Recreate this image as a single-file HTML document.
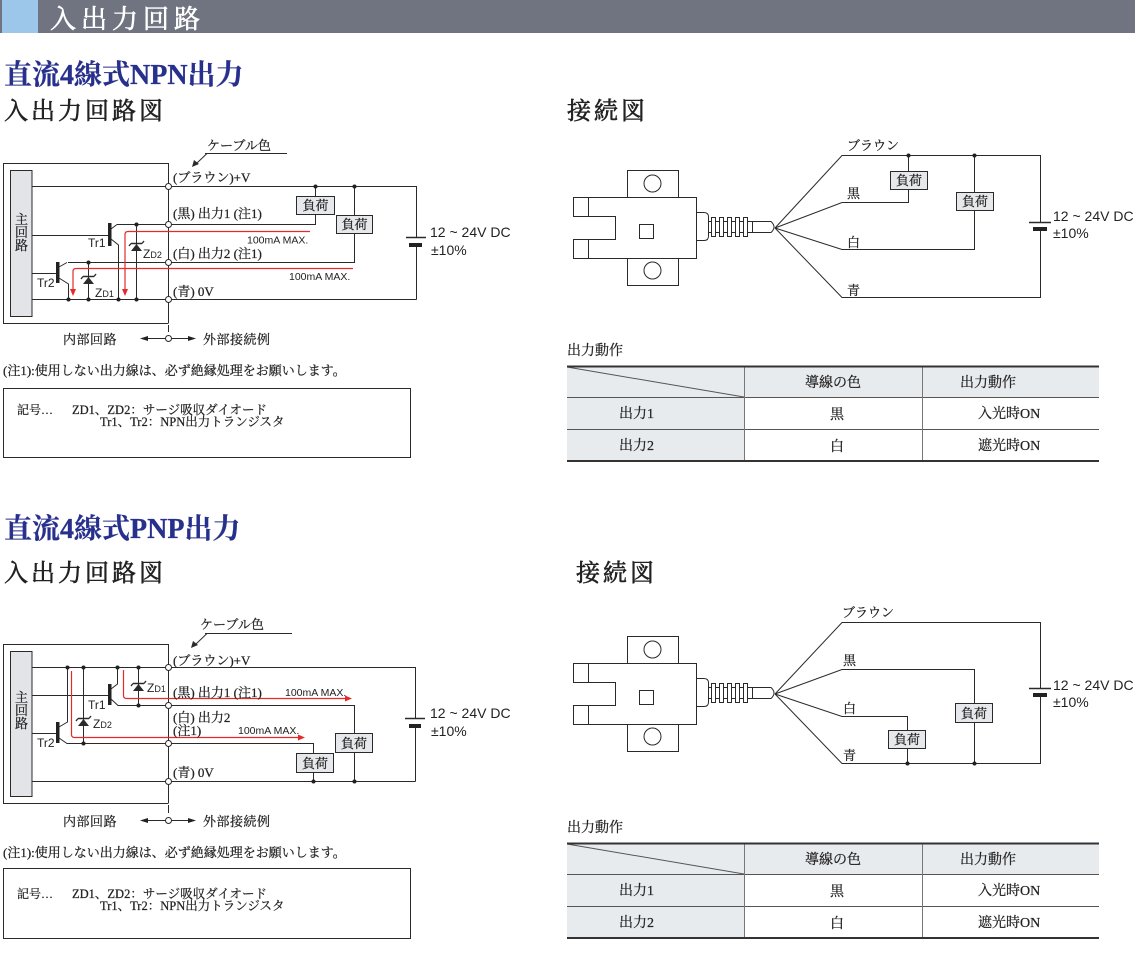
<!DOCTYPE html>
<html><head><meta charset="utf-8"><style>
html,body{margin:0;padding:0;background:#fff;}
svg{display:block;}
.s{font-family:"Liberation Serif","Noto Serif CJK SC",serif;fill:#222;stroke:#222;stroke-width:0.25px;}
.h{stroke-width:0.6px;}
.a{font-family:"Liberation Sans","Noto Sans CJK JP",sans-serif;fill:#222;}
</style></head><body>
<svg width="1135" height="969" viewBox="0 0 1135 969" xmlns="http://www.w3.org/2000/svg">
<!-- header -->
<rect x="0" y="0" width="1135" height="33" fill="#6f7480"/>
<rect x="2" y="0" width="36" height="33" fill="#9dc7ea"/>
<text x="50" y="28" class="s h" font-size="26" letter-spacing="5" style="fill:#fff;stroke:#fff">入出力回路</text>

<!-- ============ NPN ============ -->
<text x="4" y="84" class="s" font-size="28" font-weight="bold" style="fill:#27308c;stroke:#27308c">直流4線式NPN出力</text>
<text x="4" y="119" class="s h" font-size="24" letter-spacing="3">入出力回路図</text>
<text x="567" y="119" class="s h" font-size="24" letter-spacing="3">接続図</text>

<!-- NPN circuit -->
<g fill="none" stroke="#2a2a2a" stroke-width="1">
<path d="M168.5,163.5 H3.5 V323.5 H168.5"/>
<path d="M168.5,163 V323 M168.5,325 V332"/>
<path d="M32,186.5 H416.5 M117,224.5 H315.5 V214 M68,262.5 H354.5 V233 M32,299.5 H416.5"/>
<path d="M416.5,186 V237 M416.5,246 V299.5"/>
<path d="M315.5,186 V196 M354.5,186 V215"/>
<path d="M32,235.5 H109 M111,229 L117,224.5 M111,239 L118.5,245 V299"/>
<path d="M136.5,224 V299"/>
<path d="M32,273.5 H57 M59,267 L67,262.5 M59,278 L68.5,284 V299"/>
<path d="M88.5,262 V299"/>
<path d="M205,153.5 H287 M207,153.5 L197,163"/>
<path d="M406,237.5 H426" stroke-width="1.6"/>
<path d="M131,243.5 H142 M129,246 L131,243.5 M142,243.5 L144,241" stroke-width="1.4"/>
<path d="M83,276.5 H94 M81,279 L83,276.5 M94,276.5 L96,274" stroke-width="1.4"/>
</g>
<polygon points="192,167 194,160 199,164" fill="#2a2a2a"/>
<polygon points="131,251 142,251 136.5,244" fill="#2a2a2a"/>
<polygon points="83,284 94,284 88.5,277" fill="#2a2a2a"/>
<rect x="108" y="223" width="3.5" height="23" fill="#222"/>
<rect x="56" y="262" width="3.5" height="21" fill="#222"/>
<rect x="409" y="243" width="13" height="4" fill="#222"/>
<rect x="10.5" y="170.5" width="21.5" height="146" fill="#e2e4e8" stroke="#2a2a2a"/>
<g fill="#222">
<circle cx="315.5" cy="186.5" r="2"/><circle cx="354.5" cy="186.5" r="2"/>
<circle cx="136.5" cy="224.5" r="2"/><circle cx="88.5" cy="262.5" r="2"/>
<circle cx="68.5" cy="299.5" r="2"/><circle cx="88.5" cy="299.5" r="2"/>
<circle cx="118.5" cy="299.5" r="2"/><circle cx="136.5" cy="299.5" r="2"/>
</g>
<g fill="#fff" stroke="#2a2a2a">
<circle cx="168.5" cy="186.5" r="3"/><circle cx="168.5" cy="224.5" r="3"/>
<circle cx="168.5" cy="262.5" r="3"/><circle cx="168.5" cy="299.5" r="3"/>
</g>
<rect x="296.5" y="196.5" width="38" height="18" fill="#e6e8eb" stroke="#2a2a2a"/>
<text x="315.5" y="210" class="s" font-size="13" text-anchor="middle">負荷</text>
<rect x="336.5" y="215.5" width="36" height="18" fill="#e6e8eb" stroke="#2a2a2a"/>
<text x="354.5" y="229" class="s" font-size="13" text-anchor="middle">負荷</text>
<g fill="none" stroke="#e42b2b" stroke-width="1.2">
<path d="M310,231.5 H128 Q125,231.5 125,234.5 V290"/>
<path d="M353,268.5 H76 Q73,268.5 73,271.5 V290"/>
</g>
<polygon points="122,289 128,289 125,296" fill="#e42b2b"/>
<polygon points="70,289 76,289 73,296" fill="#e42b2b"/>
<text x="207" y="150" class="s" font-size="13">ケーブル色</text>
<text x="173" y="182" class="s" font-size="13">(ブラウン)+V</text>
<text x="173" y="218" class="s" font-size="13">(黒) 出力1 (注1)</text>
<text x="173" y="258" class="s" font-size="13">(白) 出力2 (注1)</text>
<text x="173" y="296" class="s" font-size="13">(青) 0V</text>
<text x="15" y="224" class="s" font-size="13">主</text>
<text x="15" y="237" class="s" font-size="13">回</text>
<text x="15" y="250" class="s" font-size="13">路</text>
<text x="88" y="247" class="a" font-size="12">Tr1</text>
<text x="37" y="287" class="a" font-size="12">Tr2</text>
<text x="143" y="258" class="a" font-size="12">Z<tspan font-size="9">D2</tspan></text>
<text x="95" y="297" class="a" font-size="12">Z<tspan font-size="9">D1</tspan></text>
<text x="247" y="243.5" class="a" font-size="10.5">100mA MAX.</text>
<text x="289" y="280" class="a" font-size="10.5">100mA MAX.</text>
<text x="430" y="237" class="a" font-size="14">12 ~ 24V DC</text>
<text x="431" y="255" class="a" font-size="14">±10%</text>
<g stroke="#2a2a2a" fill="none"><path d="M146,338.5 H190"/></g>
<polygon points="140,338.5 148,336 148,341" fill="#222"/>
<polygon points="196,338.5 188,336 188,341" fill="#222"/>
<circle cx="168.5" cy="338.5" r="3" fill="#fff" stroke="#2a2a2a"/>
<text x="63" y="344" class="s" font-size="13" letter-spacing="0.5">内部回路</text>
<text x="203" y="344" class="s" font-size="13" letter-spacing="0.5">外部接続例</text>
<text x="3" y="375" class="s" font-size="13">(注1):使用しない出力線は、必ず絶縁処理をお願いします。</text>
<rect x="3.5" y="388.5" width="407" height="69" fill="none" stroke="#2a2a2a"/>
<text x="17" y="414" class="s" font-size="12">記号…</text>
<text x="72" y="414" class="s" font-size="12.5">ZD1、ZD2：サージ吸収ダイオード</text>
<text x="100" y="426" class="s" font-size="12.5">Tr1、Tr2：NPN出力トランジスタ</text>

<!-- NPN connection diagram -->
<g id="sens" fill="none" stroke="#2a2a2a">
<rect x="627.5" y="170.5" width="51" height="27"/>
<circle cx="652.5" cy="183.5" r="8.5"/>
<path d="M573.5,197.5 H696.5 V258.5 H573.5 V239.5 H615.5 V216.5 H573.5 Z"/>
<path d="M588.5,197.5 V216.5 M588.5,239.5 V258.5"/>
<rect x="639.5" y="224.5" width="14" height="14"/>
<rect x="627.5" y="258.5" width="51" height="27"/>
<circle cx="652.5" cy="270.5" r="8.5"/>
<path d="M696.5,212.5 H704 Q708.5,212.5 708.5,217 V236 Q708.5,240.5 704,240.5 H696.5"/>
<rect x="708.5" y="221.5" width="44" height="11"/>
<rect x="711.5" y="217.5" width="4" height="19" fill="#fff"/>
<rect x="719.5" y="217.5" width="4" height="19" fill="#fff"/>
<rect x="727.5" y="217.5" width="4" height="19" fill="#fff"/>
<rect x="735.5" y="217.5" width="4" height="19" fill="#fff"/>
<rect x="743.5" y="217.5" width="4" height="19" fill="#fff"/>
<path d="M752.5,221.5 H771 Q777,227 771,232.5 H752.5"/>
</g>
<g fill="none" stroke="#2a2a2a">
<path d="M775,228 L842,155.5 H1040.5 V222"/>
<path d="M775,228 L842,202.5 H908.5 V189"/>
<path d="M908.5,155 V171"/>
<path d="M775,228 L842,249.5 H974.5 V210"/>
<path d="M974.5,155 V192"/>
<path d="M775,228 L842,297.5 H1040.5 V231"/>
<path d="M1029,222.5 H1051" stroke-width="1.6"/>
</g>
<rect x="1033" y="227" width="14" height="4" fill="#222"/>
<circle cx="908.5" cy="155.5" r="2" fill="#222"/>
<circle cx="974.5" cy="155.5" r="2" fill="#222"/>
<rect x="890.5" y="171.5" width="37" height="18" fill="#e6e8eb" stroke="#2a2a2a"/>
<text x="909" y="185" class="s" font-size="13" text-anchor="middle">負荷</text>
<rect x="956.5" y="192.5" width="37" height="18" fill="#e6e8eb" stroke="#2a2a2a"/>
<text x="975" y="206" class="s" font-size="13" text-anchor="middle">負荷</text>
<text x="847" y="150" class="s" font-size="13">ブラウン</text>
<text x="847" y="198" class="s" font-size="13">黒</text>
<text x="847" y="247" class="s" font-size="13">白</text>
<text x="847" y="295" class="s" font-size="13">青</text>
<text x="1053" y="221" class="a" font-size="14">12 ~ 24V DC</text>
<text x="1053" y="238" class="a" font-size="14">±10%</text>

<!-- NPN table -->
<text x="567" y="355" class="s" font-size="14">出力動作</text>
<rect x="567" y="366" width="532" height="31" fill="#e8ebee"/>
<rect x="567" y="397" width="177" height="64" fill="#e8ebee"/>
<g stroke="#555" fill="none">
<path d="M567,397.5 H1099 M567,429.5 H1099"/>
<path d="M744.5,366 V461 M922.5,366 V461" stroke="#777"/>
<path d="M567,367 L744,397"/>
<path d="M567,366.5 H1099 M567,461 H1099" stroke="#333" stroke-width="2"/>
</g>
<text x="833" y="387" class="s" font-size="14" text-anchor="middle">導線の色</text>
<text x="960" y="387" class="s" font-size="14">出力動作</text>
<text x="619" y="418" class="s" font-size="14">出力1</text>
<text x="837" y="419" class="s" font-size="14" text-anchor="middle">黒</text>
<text x="978" y="418" class="s" font-size="14">入光時ON</text>
<text x="619" y="450" class="s" font-size="14">出力2</text>
<text x="837" y="451" class="s" font-size="14" text-anchor="middle">白</text>
<text x="978" y="450" class="s" font-size="14">遮光時ON</text>

<!-- ============ PNP ============ -->
<text x="4" y="538" class="s" font-size="28" font-weight="bold" style="fill:#27308c;stroke:#27308c">直流4線式PNP出力</text>
<text x="4" y="581" class="s h" font-size="24" letter-spacing="3">入出力回路図</text>
<text x="576" y="581" class="s h" font-size="24" letter-spacing="3">接続図</text>

<g fill="none" stroke="#2a2a2a" stroke-width="1">
<path d="M168.5,644.5 H3.5 V803.5 H168.5"/>
<path d="M168.5,644 V803 M168.5,805 V813"/>
<path d="M32,667.5 H415.5 M32,781.5 H415.5"/>
<path d="M415.5,667 V718 M415.5,727 V781.5"/>
<path d="M32,695.5 H109 M111,689 L117.5,684 V667 M111,699 L118,705.5 H354.5 V733"/>
<path d="M354.5,752 V781"/>
<path d="M138.5,667 V705"/>
<path d="M32,733.5 H57 M59,727 L67.5,722 V667 M59,738 L67,743.5 H313.5 V753"/>
<path d="M313.5,772 V781"/>
<path d="M83.5,667 V743"/>
<path d="M205,633.5 H292 M207,633.5 L196,644"/>
<path d="M405,718.5 H425" stroke-width="1.6"/>
<path d="M133,683.5 H144 M131,686 L133,683.5 M144,683.5 L146,681" stroke-width="1.4"/>
<path d="M78,718.5 H89 M76,721 L78,718.5 M89,718.5 L91,716" stroke-width="1.4"/>
</g>
<polygon points="191,648 193,641 198,645" fill="#2a2a2a"/>
<polygon points="133,691 144,691 138.5,684" fill="#2a2a2a"/>
<polygon points="78,726 89,726 83.5,719" fill="#2a2a2a"/>
<rect x="108" y="684" width="3.5" height="21" fill="#222"/>
<rect x="56" y="722" width="3.5" height="21" fill="#222"/>
<rect x="409" y="724" width="12" height="4" fill="#222"/>
<rect x="10.5" y="651.5" width="21.5" height="145" fill="#e2e4e8" stroke="#2a2a2a"/>
<g fill="#222">
<circle cx="67.5" cy="667.5" r="2"/><circle cx="83.5" cy="667.5" r="2"/>
<circle cx="117.5" cy="667.5" r="2"/><circle cx="138.5" cy="667.5" r="2"/>
<circle cx="138.5" cy="705.5" r="2"/><circle cx="83.5" cy="743.5" r="2"/>
<circle cx="313.5" cy="781.5" r="2"/><circle cx="354.5" cy="781.5" r="2"/>
</g>
<g fill="#fff" stroke="#2a2a2a">
<circle cx="168.5" cy="667.5" r="3"/><circle cx="168.5" cy="705.5" r="3"/>
<circle cx="168.5" cy="743.5" r="3"/><circle cx="168.5" cy="781.5" r="3"/>
</g>
<rect x="335.5" y="733.5" width="37" height="19" fill="#e6e8eb" stroke="#2a2a2a"/>
<text x="354" y="748" class="s" font-size="13" text-anchor="middle">負荷</text>
<rect x="296.5" y="753.5" width="37" height="19" fill="#e6e8eb" stroke="#2a2a2a"/>
<text x="315" y="768" class="s" font-size="13" text-anchor="middle">負荷</text>
<g fill="none" stroke="#e42b2b" stroke-width="1.2">
<path d="M123.5,670 V695.5 Q123.5,698.5 126.5,698.5 H345"/>
<path d="M71.5,671 V734.5 Q71.5,737.5 74.5,737.5 H298"/>
</g>
<polygon points="345,695.5 345,701.5 352,698.5" fill="#e42b2b"/>
<polygon points="298,734.5 298,740.5 305,737.5" fill="#e42b2b"/>
<text x="200" y="629" class="s" font-size="13">ケーブル色</text>
<text x="173" y="665" class="s" font-size="13">(ブラウン)+V</text>
<text x="173" y="697" class="s" font-size="13">(黒) 出力1 (注1)</text>
<text x="173" y="722" class="s" font-size="13">(白) 出力2</text>
<text x="173" y="735" class="s" font-size="13">(注1)</text>
<text x="173" y="777" class="s" font-size="13">(青) 0V</text>
<text x="15" y="702" class="s" font-size="13">主</text>
<text x="15" y="715" class="s" font-size="13">回</text>
<text x="15" y="728" class="s" font-size="13">路</text>
<text x="88" y="709" class="a" font-size="12">Tr1</text>
<text x="37" y="747" class="a" font-size="12">Tr2</text>
<text x="147" y="692" class="a" font-size="12">Z<tspan font-size="9">D1</tspan></text>
<text x="93" y="728" class="a" font-size="12">Z<tspan font-size="9">D2</tspan></text>
<text x="285" y="696" class="a" font-size="10.5">100mA MAX.</text>
<text x="238" y="734" class="a" font-size="10.5">100mA MAX.</text>
<text x="430" y="718" class="a" font-size="14">12 ~ 24V DC</text>
<text x="431" y="736" class="a" font-size="14">±10%</text>
<g stroke="#2a2a2a" fill="none"><path d="M146,820.5 H190"/></g>
<polygon points="140,820.5 148,818 148,823" fill="#222"/>
<polygon points="196,820.5 188,818 188,823" fill="#222"/>
<circle cx="168.5" cy="820.5" r="3" fill="#fff" stroke="#2a2a2a"/>
<text x="63" y="826" class="s" font-size="13" letter-spacing="0.5">内部回路</text>
<text x="203" y="826" class="s" font-size="13" letter-spacing="0.5">外部接続例</text>
<text x="3" y="857" class="s" font-size="13">(注1):使用しない出力線は、必ず絶縁処理をお願いします。</text>
<rect x="3.5" y="868.5" width="407" height="70" fill="none" stroke="#2a2a2a"/>
<text x="17" y="898" class="s" font-size="12">記号…</text>
<text x="72" y="898" class="s" font-size="12.5">ZD1、ZD2：サージ吸収ダイオード</text>
<text x="100" y="910" class="s" font-size="12.5">Tr1、Tr2：NPN出力トランジスタ</text>

<!-- PNP connection diagram -->
<use href="#sens" transform="translate(0,466)"/>
<g fill="none" stroke="#2a2a2a">
<path d="M775,694 L842,622.5 H1040.5 V688"/>
<path d="M775,694 L842,669.5 H974.5 V703"/>
<path d="M974.5,722 V763"/>
<path d="M775,694 L842,716.5 H907.5 V730"/>
<path d="M907.5,748 V763"/>
<path d="M775,694 L842,763.5 H1040.5 V697"/>
<path d="M1029,688.5 H1051" stroke-width="1.6"/>
</g>
<rect x="1033" y="693" width="14" height="4" fill="#222"/>
<circle cx="907.5" cy="763.5" r="2" fill="#222"/>
<circle cx="974.5" cy="763.5" r="2" fill="#222"/>
<rect x="955.5" y="703.5" width="37" height="19" fill="#e6e8eb" stroke="#2a2a2a"/>
<text x="974" y="718" class="s" font-size="13" text-anchor="middle">負荷</text>
<rect x="888.5" y="730.5" width="37" height="18" fill="#e6e8eb" stroke="#2a2a2a"/>
<text x="907" y="744" class="s" font-size="13" text-anchor="middle">負荷</text>
<text x="842" y="617" class="s" font-size="13">ブラウン</text>
<text x="843" y="665" class="s" font-size="13">黒</text>
<text x="843" y="713" class="s" font-size="13">白</text>
<text x="843" y="760" class="s" font-size="13">青</text>
<text x="1053" y="690" class="a" font-size="14">12 ~ 24V DC</text>
<text x="1053" y="707" class="a" font-size="14">±10%</text>

<!-- PNP table -->
<text x="567" y="832" class="s" font-size="14">出力動作</text>
<rect x="567" y="843" width="532" height="31" fill="#e8ebee"/>
<rect x="567" y="874" width="177" height="64" fill="#e8ebee"/>
<g stroke="#555" fill="none">
<path d="M567,874.5 H1099 M567,906.5 H1099"/>
<path d="M744.5,843 V938 M922.5,843 V938" stroke="#777"/>
<path d="M567,844 L744,874"/>
<path d="M567,843.5 H1099 M567,938 H1099" stroke="#333" stroke-width="2"/>
</g>
<text x="833" y="864" class="s" font-size="14" text-anchor="middle">導線の色</text>
<text x="960" y="864" class="s" font-size="14">出力動作</text>
<text x="619" y="895" class="s" font-size="14">出力1</text>
<text x="837" y="896" class="s" font-size="14" text-anchor="middle">黒</text>
<text x="978" y="895" class="s" font-size="14">入光時ON</text>
<text x="619" y="927" class="s" font-size="14">出力2</text>
<text x="837" y="928" class="s" font-size="14" text-anchor="middle">白</text>
<text x="978" y="927" class="s" font-size="14">遮光時ON</text>
</svg>
</body></html>
